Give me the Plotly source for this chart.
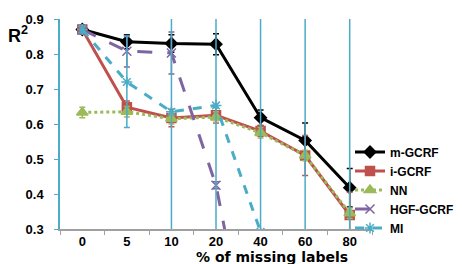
import plotly.graph_objects as go

categories = ["0", "5", "10", "20", "40", "60", "80"]

m_gcrf = [0.870, 0.835, 0.830, 0.828, 0.618, 0.553, 0.418]
m_gcrf_err = [0.010, 0.020, 0.025, 0.030, 0.022, 0.050, 0.055]

i_gcrf = [0.870, 0.648, 0.617, 0.625, 0.580, 0.510, 0.340]
i_gcrf_err = [0.010, 0.018, 0.025, 0.022, 0.015, 0.057, 0.065]

nn = [0.633, 0.635, 0.615, 0.620, 0.575, 0.510, 0.345]
nn_err = [0.015, 0.015, 0.015, 0.015, 0.015, 0.015, 0.015]

hgf_gcrf = [0.870, 0.808, 0.803, 0.425, -0.22, -0.30, -0.40]
hgf_gcrf_err = [0.012, 0.045, 0.060, 0.010, 0.05, 0.05, 0.05]

mi = [0.870, 0.720, 0.635, 0.653, 0.292, 0.200, 0.150]
mi_err = [0.010, 0.130, 0.450, 0.450, 0.800, 0.800, 0.800]

series = [
    ("m-GCRF", m_gcrf, m_gcrf_err, "#000000", "solid", 3, "diamond", 9),
    ("i-GCRF", i_gcrf, i_gcrf_err, "#C0504D", "solid", 3, "square", 9),
    ("NN", nn, nn_err, "#9BBB59", "dot", 3, "triangle-up", 10),
    ("HGF-GCRF", hgf_gcrf, hgf_gcrf_err, "#8064A2", "longdash", 3, "x-thin-open", 9),
    ("MI", mi, mi_err, "#4BACC6", "dash", 3, "asterisk-open", 9),
]

fig = go.Figure()
for name, vals, err, color, dash, w, sym, ms in series:
    fig.add_trace(go.Scatter(
        x=categories, y=vals, name=name, mode="lines+markers",
        line=dict(color=color, width=w, dash=dash),
        marker=dict(symbol=sym, size=ms, color=color,
                    line=dict(color=color, width=1.5)),
        error_y=dict(type="data", array=err, visible=True,
                     color=color, thickness=1.5, width=3),
    ))

L, R, T, B = 52, 98, 11, 43
pw = 462 - L - R
ph = 264 - T - B

fig.update_layout(
    width=462, height=264,
    margin=dict(l=L, r=R, t=T, b=B, autoexpand=False),
    paper_bgcolor="white", plot_bgcolor="white",
    font=dict(family="Liberation Sans, Arial, sans-serif", color="#000000"),
    showlegend=True,
    legend=dict(x=(342 - L) / pw, y=(264 - B - 182) / ph,
                xanchor="left", yanchor="middle",
                font=dict(size=12, weight="bold", color="#000000"),
                itemwidth=30, bgcolor="rgba(0,0,0,0)",
                borderwidth=0),
    xaxis=dict(type="category", range=[-0.5, 6.5], showgrid=False,
               showline=True, linecolor="#A0A0A0", linewidth=1.5,
               ticks="outside", tickson="boundaries", ticklen=4,
               tickcolor="#A0A0A0",
               tickfont=dict(size=13, weight="bold", color="#000000"),
               zeroline=False),
    yaxis=dict(range=[0.3, 0.9], tickvals=[0.3, 0.4, 0.5, 0.6, 0.7, 0.8, 0.9],
               ticktext=["0.3", "0.4", "0.5", "0.6", "0.7", "0.8", "0.9"],
               showgrid=False, showline=True, linecolor="#4BACC6",
               linewidth=1.5, ticks="outside", ticklen=4, tickcolor="#4BACC6",
               ticklabelstandoff=8,
               tickfont=dict(size=13, weight="bold", color="#000000"),
               zeroline=False),
    annotations=[
        dict(text="<b>% of missing labels</b>", xref="paper", yref="paper",
             x=(264 - L) / pw, y=(264 - B - 249) / ph,
             xanchor="center", yanchor="middle",
             showarrow=False,
             font=dict(size=14, family="DejaVu Sans", color="#000000")),
        dict(text="<b>R<sup>2</sup></b>", xref="paper", yref="paper",
             x=(10 - L) / pw, y=(264 - B - 27) / ph,
             xanchor="center", yanchor="middle",
             showarrow=False, font=dict(size=18, color="#000000")),
    ],
)

fig.write_html("out.html")
